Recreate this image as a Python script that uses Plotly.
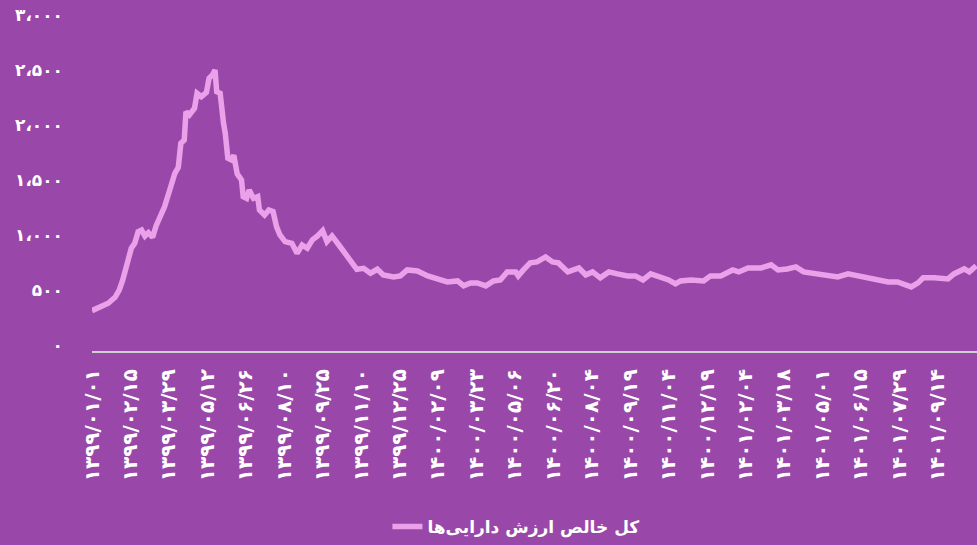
import plotly.graph_objects as go

# Day offsets from 1399/01/01 and net asset value
day_offsets = [0, 11, 19, 27, 32, 36, 41, 46, 50, 54, 58, 62, 66, 71, 75, 81, 85, 91, 97, 101,
               104, 108, 110, 114, 120, 123, 128, 134, 137, 141, 144, 146, 150, 154, 156, 159, 163,
               166, 170, 175, 177, 181, 184, 189, 194, 196, 202, 207, 212, 216, 220, 226, 234, 240,
               246, 252, 258, 264, 270, 275, 281, 289, 298, 304, 310, 318, 326, 334, 341,
               353, 361, 369, 381, 393, 404, 416, 428, 435, 443, 451, 461, 470, 478, 486, 496, 499,
               505, 513, 521, 531, 539, 546, 557, 570, 578, 586, 595, 605, 615, 627, 636, 645, 654,
               666, 675, 683, 689, 701, 716, 724, 736, 750, 757, 768, 783, 795, 803, 814, 824, 833,
               850, 861, 873, 885, 896, 908, 920, 932, 943, 950, 959, 967, 973, 986, 1002, 1009,
               1021, 1027, 1035]
net_asset_value = [312, 348, 379, 433, 500, 591, 727, 879, 924, 1030, 1045, 991, 1021, 979, 1082,
                   1182, 1258, 1409, 1561, 1615, 1833, 1864, 2121, 2091, 2152, 2288, 2258, 2297,
                   2424, 2455, 2500, 2303, 2288, 2015, 1924, 1697, 1682, 1725, 1555, 1500, 1348,
                   1333, 1409, 1333, 1348, 1227, 1182, 1227, 1212, 1076, 1000, 939, 924, 833, 909,
                   879, 955, 991, 1039, 939, 991, 909, 818, 757, 688, 697, 652, 688, 636,
                   619, 628, 682, 673, 628, 600, 573, 582, 537, 564, 564, 537, 582, 591, 664, 664,
                   628, 682, 746, 755, 800, 755, 746, 664, 700, 637, 664, 610, 664, 646, 628, 628,
                   591, 646, 619, 591, 555, 582, 591, 582, 628, 628, 682, 664, 700, 700, 728, 682,
                   691, 710, 664, 646, 637, 619, 646, 628, 619, 600, 573, 573, 555, 528, 564, 610,
                   610, 600, 646, 691, 664, 719]

tick_days = [i * 45 for i in range(23)]
tick_labels = ["۱۳۹۹/۰۱/۰۱", "۱۳۹۹/۰۲/۱۵", "۱۳۹۹/۰۳/۲۹", "۱۳۹۹/۰۵/۱۲", "۱۳۹۹/۰۶/۲۶",
               "۱۳۹۹/۰۸/۱۰", "۱۳۹۹/۰۹/۲۵", "۱۳۹۹/۱۱/۱۰", "۱۳۹۹/۱۲/۲۵", "۱۴۰۰/۰۲/۰۹",
               "۱۴۰۰/۰۳/۲۳", "۱۴۰۰/۰۵/۰۶", "۱۴۰۰/۰۶/۲۰", "۱۴۰۰/۰۸/۰۴", "۱۴۰۰/۰۹/۱۹",
               "۱۴۰۰/۱۱/۰۴", "۱۴۰۰/۱۲/۱۹", "۱۴۰۱/۰۲/۰۴", "۱۴۰۱/۰۳/۱۸", "۱۴۰۱/۰۵/۰۱",
               "۱۴۰۱/۰۶/۱۵", "۱۴۰۱/۰۷/۲۹", "۱۴۰۱/۰۹/۱۴"]
y_ticks = [0, 500, 1000, 1500, 2000, 2500, 3000]
y_labels = ["۰", "۵۰۰", "۱،۰۰۰", "۱،۵۰۰", "۲،۰۰۰", "۲،۵۰۰", "۳،۰۰۰"]
series_name = "کل خالص ارزش دارایی‌ها"

BG = "#9948A9"
LINE = "#EBA0EA"
FONT = "DejaVu Sans"

fig = go.Figure()
fig.add_trace(go.Scatter(x=day_offsets, y=net_asset_value, mode="lines", name=series_name,
                         line=dict(color=LINE, width=5.5)))

fig.update_layout(
    width=977, height=545,
    paper_bgcolor=BG, plot_bgcolor=BG,
    margin=dict(l=92, r=0, t=15, b=194),
    showlegend=True,
    legend=dict(orientation="h", x=0.479, xanchor="center", y=-0.524, yanchor="middle",
                font=dict(family=FONT, size=17, color="white", weight="bold"),
                bgcolor="rgba(0,0,0,0)"),
    font=dict(family=FONT, color="white"),
)
fig.update_xaxes(range=[0, 1036], tickmode="array", tickvals=tick_days, ticktext=tick_labels,
                 tickangle=-90, tickfont=dict(family=FONT, size=20, color="white", weight="bold"),
                 showgrid=False, zeroline=False, showline=True, linecolor="#D0D0D0", linewidth=2,
                 ticks="", ticklabelstandoff=8, automargin=False)
fig.update_yaxes(range=[-55, 3000], tickmode="array", tickvals=y_ticks, ticktext=y_labels,
                 tickfont=dict(family=FONT, size=17, color="white", weight="bold"),
                 showgrid=False, zeroline=False, showline=False, ticks="", ticklabelstandoff=28,
                 automargin=False)

fig.write_html("out.html", config={"displayModeBar": False},
               post_script="document.body.style.margin='0';document.body.style.overflow='hidden';")
